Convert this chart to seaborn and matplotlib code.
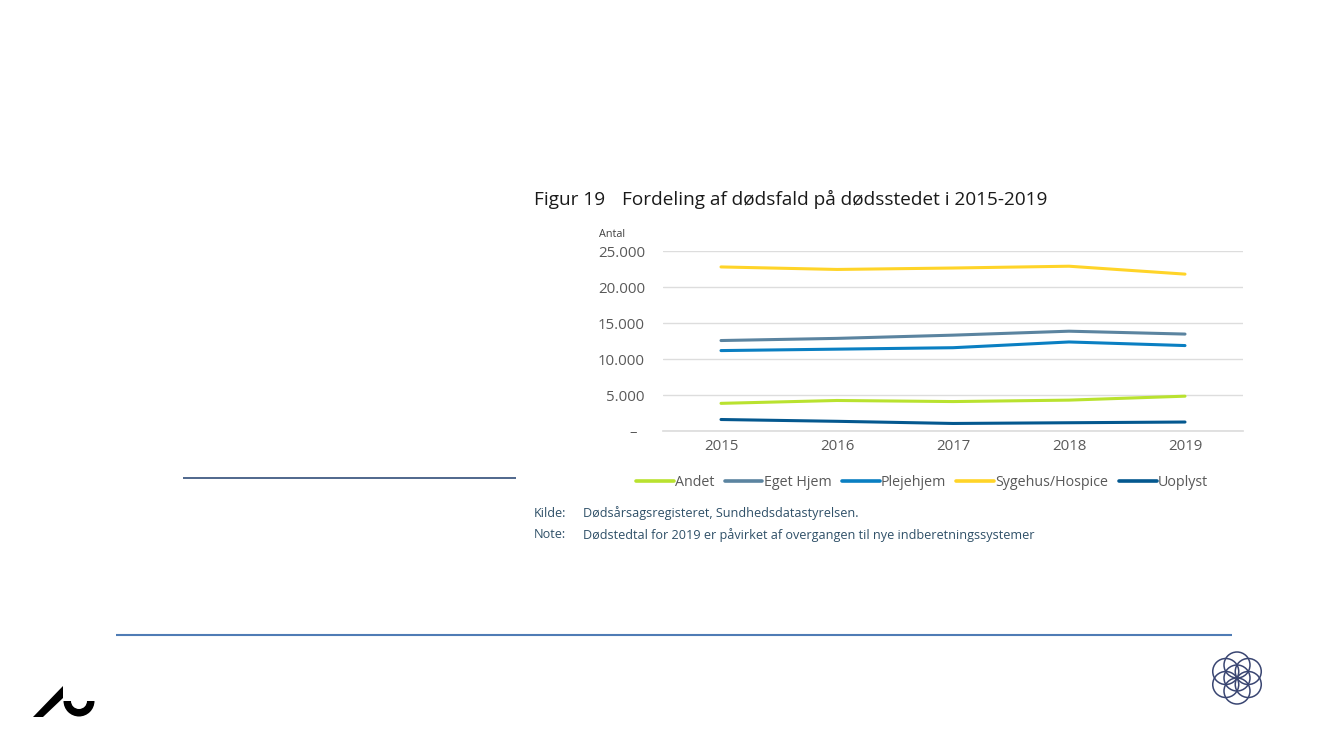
import numpy as np
import pandas as pd
import seaborn as sns
import matplotlib
matplotlib.use("Agg")
import matplotlib.pyplot as plt
from matplotlib.patches import Circle, Polygon, Wedge
from matplotlib.lines import Line2D

years = ["2015", "2016", "2017", "2018", "2019"]
andet = [3850, 4250, 4100, 4300, 4850]
eget_hjem = [12600, 12900, 13350, 13900, 13500]
plejehjem = [11200, 11400, 11600, 12400, 11900]
sygehus = [22850, 22500, 22700, 22950, 21850]
uoplyst = [1600, 1350, 1050, 1150, 1250]
series_names = ["Andet", "Eget Hjem", "Plejehjem", "Sygehus/Hospice", "Uoplyst"]
series_colors = ["#B9E22F", "#5B84A0", "#0A7FC2", "#FFD428", "#04588F"]
y_ticks = [0, 5000, 10000, 15000, 20000, 25000]
y_labels = ["–  ", "5.000", "10.000", "15.000", "20.000", "25.000"]

W, H = 1333, 750
sns.set_theme(style="white")
plt.rcParams["font.family"] = ["Open Sans", "DejaVu Sans"]

df = pd.DataFrame({"year": years * 5,
                   "series": np.repeat(series_names, 5),
                   "value": andet + eget_hjem + plejehjem + sygehus + uoplyst})

fig = plt.figure(figsize=(W / 100, H / 100), dpi=100, facecolor="white")

# pixel overlay for page furniture
bg = fig.add_axes([0, 0, 1, 1])
bg.set_xlim(0, W)
bg.set_ylim(H, 0)
bg.axis("off")

L, R, T, B = 663, 1243, 251.5, 431
ax = fig.add_axes([L / W, 1 - B / H, (R - L) / W, (B - T) / H])
sns.lineplot(data=df, x="year", y="value", hue="series", hue_order=series_names,
             palette=series_colors, linewidth=2.2, legend=False, ax=ax,
             errorbar=None, sort=False)
ax.set_xlim(-0.5, 4.5)
ax.set_ylim(0, 25000)
ax.set_yticks(y_ticks)
ax.set_yticklabels(y_labels)
ax.set_xlabel("")
ax.set_ylabel("")
ax.grid(axis="y", color="#DDDDDD", linewidth=1)
ax.set_axisbelow(True)
for s in ["top", "left", "right"]:
    ax.spines[s].set_visible(False)
ax.spines["bottom"].set_color("#DDDDDD")
ax.tick_params(axis="both", length=0, labelcolor="#595959", labelsize=10.8)
ax.tick_params(axis="y", pad=13)
ax.tick_params(axis="x", pad=5.5)
ax.patch.set_alpha(0)

handles = [Line2D([0], [0], color=c, lw=2.6) for c in series_colors]
fig.legend(handles, series_names, ncol=5, frameon=False, loc="center",
           bbox_to_anchor=(922 / W, 1 - 482.5 / H), fontsize=10.3,
           labelcolor="#595959", handlelength=2.65, handletextpad=0.1,
           columnspacing=0.7)

def txt(x, y, s, size, color):
    bg.text(x, y, s, fontsize=size, color=color, va="baseline", ha="left")

txt(534, 205, "Figur 19", 13.7, "#1A1A1A")
txt(622, 205, "Fordeling af dødsfald på dødsstedet i 2015-2019", 13.7, "#1A1A1A")
txt(599, 237, "Antal", 7.8, "#404040")
note_c = "#2F5068"
txt(534, 517, "Kilde:", 9.1, note_c)
txt(583, 517, "Dødsårsagsregisteret, Sundhedsdatastyrelsen.", 9.05, note_c)
txt(534, 538.5, "Note:", 9.1, note_c)
txt(583, 538.5, "Dødstedtal for 2019 er påvirket af overgangen til nye indberetningssystemer", 9.12, note_c)

bg.plot([183, 516], [478, 478], color="#1F3F6E", lw=1.1, solid_capstyle="butt")
bg.plot([116, 1232], [635, 635], color="#4F7CB5", lw=1.5, solid_capstyle="butt")

# AU logo
bg.add_patch(Polygon([(33, 717), (63, 686), (63, 698), (43, 717)], closed=True,
                     fc="black", ec="none"))
bg.add_patch(Wedge((79, 701), 15.5, 0, 180, width=7.5, fc="black", ec="none"))

# flower emblem
cx, cy, r = 1237, 678, 13
flower = "#3A4672"
bg.add_patch(Circle((cx, cy), r, fc="none", ec=flower, lw=1.1))
for a in np.deg2rad(np.arange(30, 390, 60)):
    bg.add_patch(Circle((cx + r * np.cos(a), cy + r * np.sin(a)), r,
                        fc="none", ec=flower, lw=1.1))
bg.set_aspect("auto")

fig.savefig("out.png", dpi=100)
